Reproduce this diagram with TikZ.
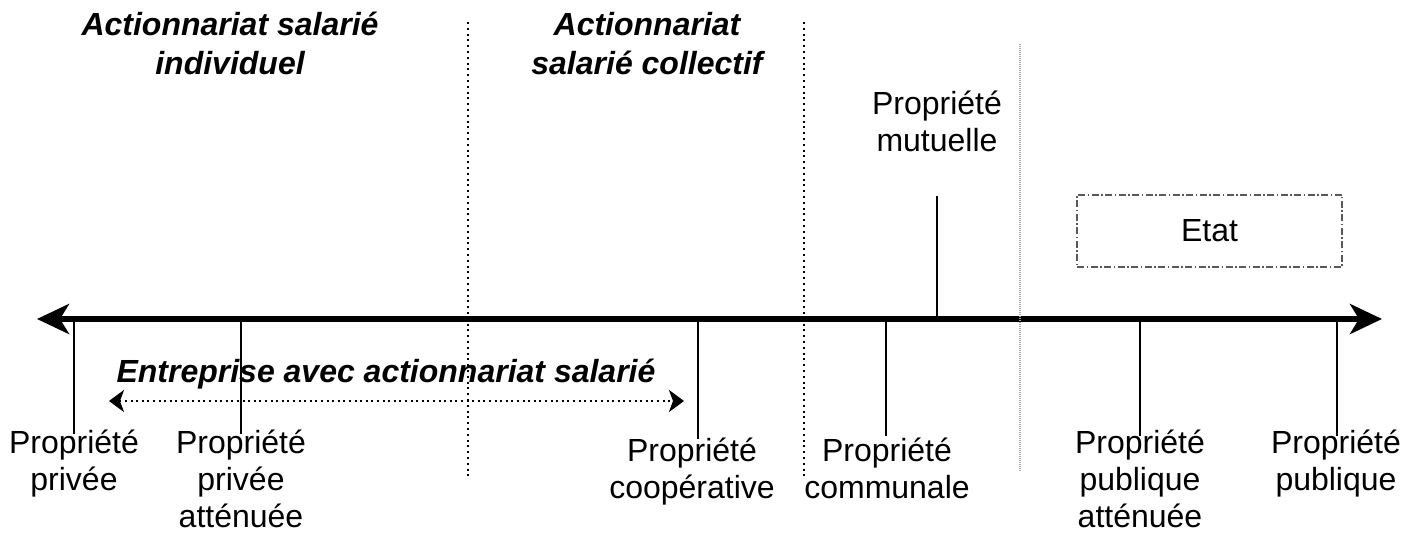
\documentclass[tikz,border=0pt]{standalone}
\usepackage{fontspec}
\setmainfont{Liberation Sans}
\usetikzlibrary{arrows.meta}
\begin{document}
\begin{tikzpicture}[x=1pt,y=-1pt,
  lbl/.style={font=\fontsize{32}{37}\selectfont, align=center, inner sep=0pt, anchor=north},
  hdr/.style={font=\fontsize{32}{39}\selectfont\bfseries\itshape, align=center, inner sep=0pt, anchor=north},
  tickline/.style={line width=2pt, black},
  sepline/.style={line width=2pt, dash pattern=on 2pt off 3.8pt},
  sepgray/.style={line width=1.4pt, gray!70, dash pattern=on 1pt off 1pt},
  axis/.style={line width=6pt, {Stealth[length=32pt,width=30pt,inset=9pt]}-{Stealth[length=32pt,width=30pt,inset=9pt]}},
  span/.style={line width=2.4pt, dash pattern=on 2pt off 3.6pt, {Stealth[length=15pt,width=22pt,inset=4pt]}-{Stealth[length=15pt,width=22pt,inset=4pt]}},
  etatbox/.style={draw=gray!70!black, line width=1.4pt, dash pattern=on 7pt off 2.5pt on 1.5pt off 2.5pt, minimum width=265pt, minimum height=72pt, inner sep=0pt, font=\fontsize{32}{37}\selectfont}
]
\useasboundingbox (0,0) rectangle (1417,534);

% axis
\coordinate (axL) at (37,319);
\coordinate (axR) at (1382,319);
\draw[axis] (axL) -- (axR);

% separators
\coordinate (s1t) at (468,22);  \coordinate (s1b) at (468,476);
\coordinate (s2t) at (804,22);  \coordinate (s2b) at (804,476);
\coordinate (s3t) at (1020,44); \coordinate (s3b) at (1020,471);
\draw[sepline] (s1t) -- (s1b);
\draw[sepline] (s2t) -- (s2b);
\draw[sepgray] (s3t) -- (s3b);

% headers
\node[hdr] (hind) at (230,12) {Actionnariat salarié\\individuel};
\node[hdr] (hcol) at (647,12) {Actionnariat\\salarié collectif};

% mutuelle
\node[lbl] (mut) at (937,91) {Propriété\\mutuelle};
\coordinate (mutt) at (937,196);
\coordinate (muta) at (937,319);
\draw[tickline] (mutt) -- (muta);

% Etat
\node[etatbox] (etat) at (1209.5,231) {Etat};

% Entreprise
\node[font=\fontsize{32}{37}\selectfont\bfseries\itshape, inner sep=0pt, anchor=base] (entr) at (386,383) {Entreprise avec actionnariat salarié};
\coordinate (spL) at (109,401);
\coordinate (spR) at (684,401);
\draw[span] (spL) -- (spR);

% bottom labels
\node[lbl] (priv) at (74,430) {Propriété\\privée};
\node[lbl] (priva) at (241,430) {Propriété\\privée\\atténuée};
\node[lbl] (coop) at (692,438) {Propriété\\coopérative};
\node[lbl] (comm) at (887,438) {Propriété\\communale};
\node[lbl] (puba) at (1140,430) {Propriété\\publique\\atténuée};
\node[lbl] (pub) at (1336,430) {Propriété\\publique};

% ticks
\coordinate (t1a) at (74,319);   \coordinate (t1b) at (74,434);
\coordinate (t2a) at (241,319);  \coordinate (t2b) at (241,434);
\coordinate (t3a) at (698,319);  \coordinate (t3b) at (698,439);
\coordinate (t4a) at (886,319);  \coordinate (t4b) at (886,436);
\coordinate (t5a) at (1140,319); \coordinate (t5b) at (1140,436);
\coordinate (t6a) at (1337,319); \coordinate (t6b) at (1337,436);
\draw[tickline] (t1a) -- (t1b);
\draw[tickline] (t2a) -- (t2b);
\draw[tickline] (t3a) -- (t3b);
\draw[tickline] (t4a) -- (t4b);
\draw[tickline] (t5a) -- (t5b);
\draw[tickline] (t6a) -- (t6b);
\end{tikzpicture}
\end{document}
